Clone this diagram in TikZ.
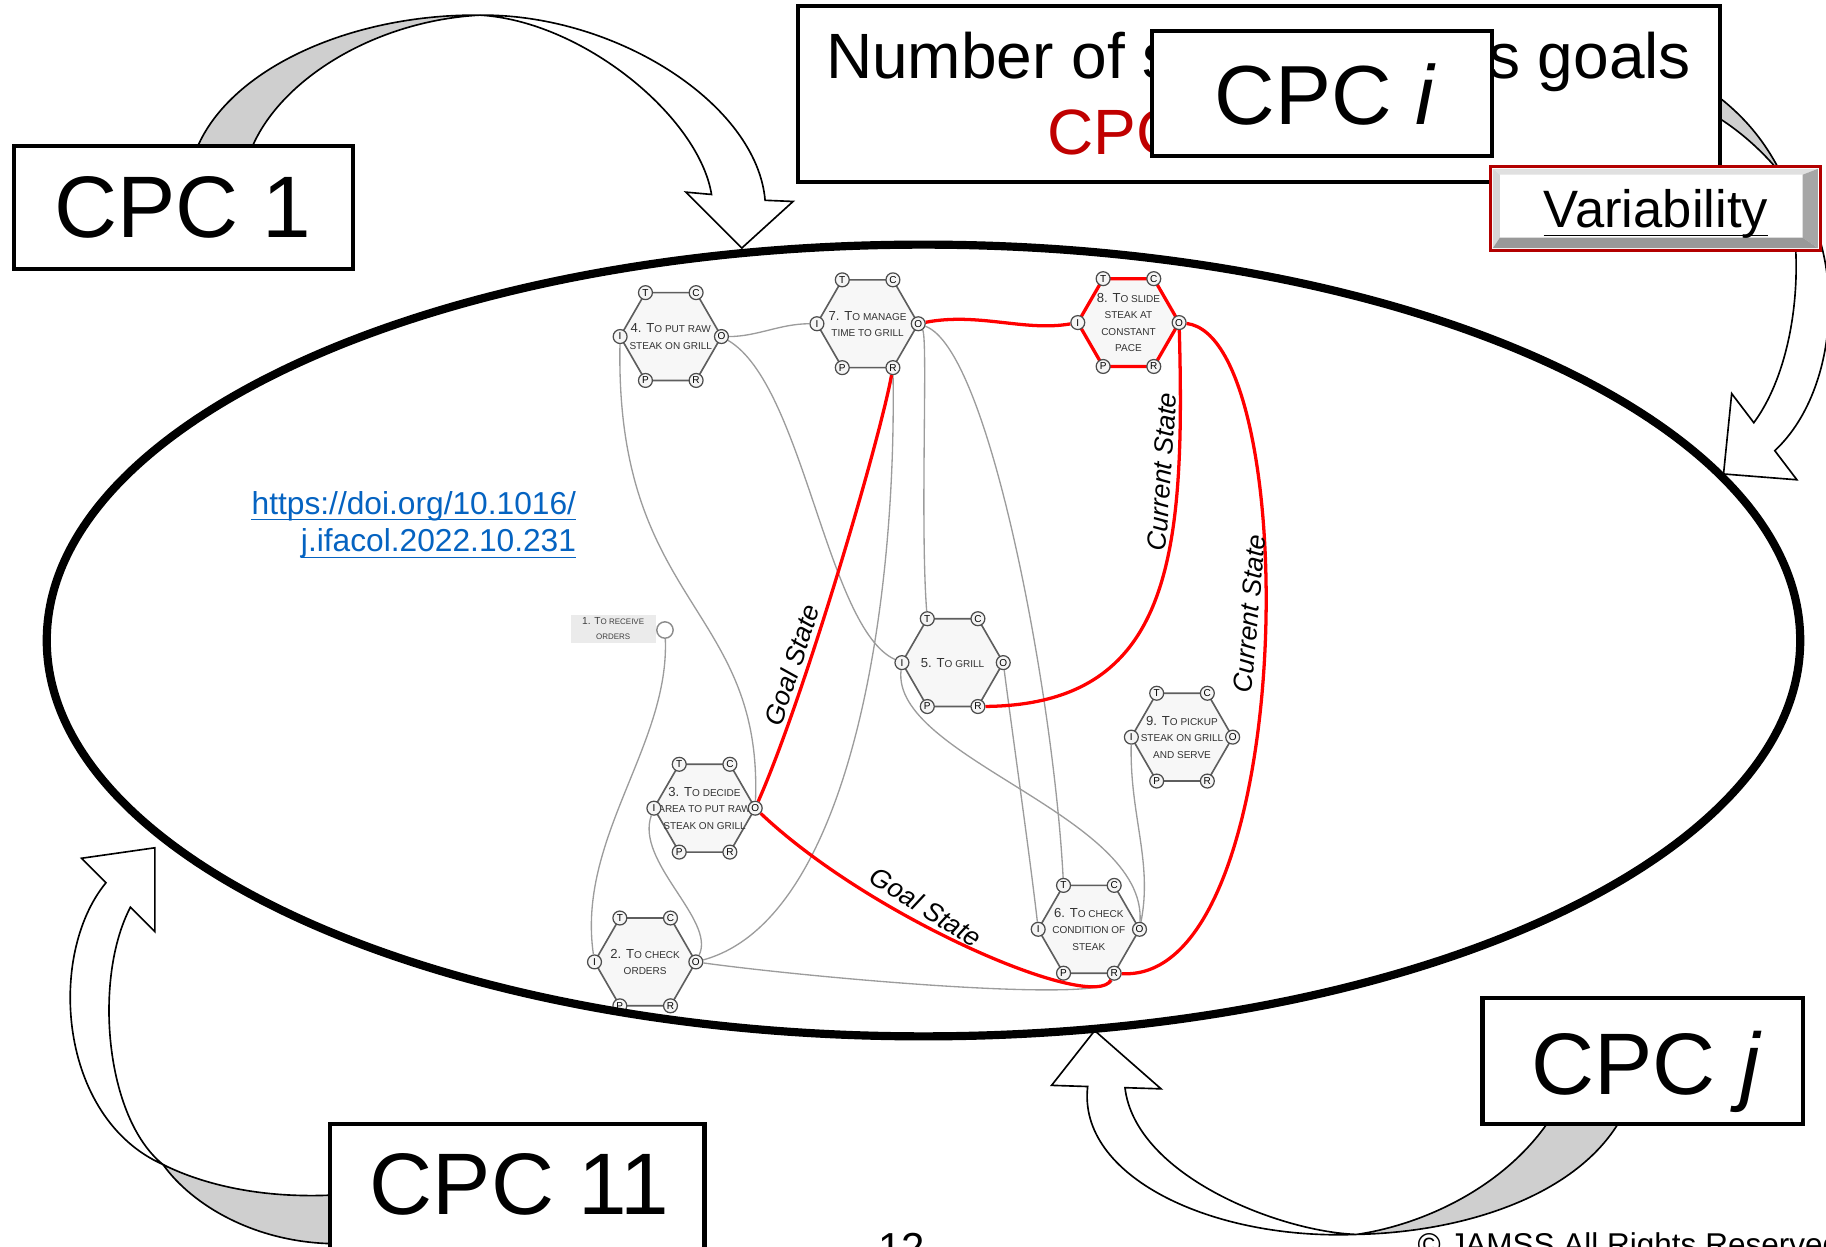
\documentclass[tikz,border=0pt]{standalone}
\usepackage{fontspec}
\setmainfont{Liberation Sans}
\definecolor{gcol}{HTML}{9C9C9C}
\definecolor{cpcred}{HTML}{C00000}
\definecolor{varred}{HTML}{B30000}
\definecolor{linkblue}{HTML}{0563C1}
\definecolor{hexfill}{HTML}{F7F7F7}
\definecolor{hexdraw}{HTML}{5E5E5E}
\definecolor{bandgrey}{HTML}{CFCFCF}
\newcommand\smc[1]{{\fontsize{4.9}{8}\selectfont\MakeUppercase{#1}}}
\newcommand\smcs[1]{{\fontsize{3.9}{7.4}\selectfont\MakeUppercase{#1}}}
\newcommand\hexfn[4][]{%
  \begin{scope}[shift={(#3)}]
    \draw[hexline,#1] (-43.5,0) -- (-21.75,-37.7) -- (21.75,-37.7) -- (43.5,0) -- (21.75,37.7) -- (-21.75,37.7) -- cycle;
    \node[hextext] (#2) at (0,0) {#4};
    \node[port] (#2-T) at (-21.75,-37.7) {T};
    \node[port] (#2-C) at (21.75,-37.7) {C};
    \node[port] (#2-O) at (43.5,0) {O};
    \node[port] (#2-R) at (21.75,37.7) {R};
    \node[port] (#2-P) at (-21.75,37.7) {P};
    \node[port] (#2-I) at (-43.5,0) {I};
  \end{scope}}
\begin{document}
\begin{tikzpicture}[x=0.02cm,y=-0.02cm,
  cpcbox/.style={draw=black, line width=2pt, fill=white, inner sep=0},
  bigtxt/.style={font=\fontsize{42.7}{48}\selectfont, anchor=base, inner sep=0},
  arrowgrey/.style={draw=black, line width=0.8pt, fill=bandgrey, line join=round},
  arrowwhite/.style={draw=black, line width=0.8pt, fill=white, line join=miter},
  hexline/.style={draw=hexdraw, line width=0.8pt, fill=hexfill},
  hextext/.style={align=center, text=black!80, font=\fontsize{6.4}{8}\selectfont, inner sep=0},
  port/.style={circle, draw=black!70, fill=black!4, line width=0.6pt, inner sep=0pt, minimum size=6.8pt, font=\fontsize{4.9}{5}\selectfont},
  gline/.style={draw=gcol, line width=0.65pt},
  rline/.style={draw=red, line width=1.6pt},
  slabel/.style={font=\itshape\fontsize{13}{15}\selectfont, inner sep=0},
  linktxt/.style={font=\fontsize{15.5}{18}\selectfont, text=linkblue, anchor=base east, inner sep=0}
]
\useasboundingbox (0,0) rectangle (1568,1070);

% ---------- curved block arrows ----------
% CPC 1
\draw[arrowgrey] (168,130) .. controls (195,60) and (300,12) .. (412,13) .. controls (320,18) and (238,70) .. (215,130) -- cycle;
\draw[arrowwhite] (412,13) .. controls (530,12) and (650,90) .. (657,172) -- (681,173) -- (637,213) -- (589,165) -- (611,167) .. controls (600,100) and (500,18) .. (412,13) -- cycle;
% CPC i
\draw[arrowgrey] (1460,72) .. controls (1495,95) and (1515,120) .. (1530,150) .. controls (1512,128) and (1490,108) .. (1460,92) -- cycle;
\draw[arrowwhite] (1530,150) .. controls (1585,200) and (1585,330) .. (1524,387) -- (1543,412) -- (1480,407) -- (1487,338) -- (1506,363) .. controls (1545,310) and (1552,210) .. (1530,150) -- cycle;
% CPC j
\draw[arrowgrey] (1335,955) .. controls (1295,1020) and (1220,1052) .. (1165,1060) .. controls (1260,1058) and (1360,1025) .. (1395,955) -- cycle;
\draw[arrowwhite] (1165,1060) .. controls (1040,1065) and (925,1010) .. (934,933) -- (903,932) -- (940,885) -- (997,935) -- (966,934) .. controls (975,1010) and (1100,1058) .. (1165,1060) -- cycle;
% CPC 11
\draw[arrowgrey] (290,1026) .. controls (220,1030) and (170,1015) .. (140,1000) .. controls (165,1035) and (220,1068) .. (290,1068) -- cycle;
\draw[arrowwhite] (140,1000) .. controls (50,960) and (40,820) .. (91,758) -- (70,737) -- (133,728) -- (133,800) -- (112,779) .. controls (80,840) and (90,960) .. (140,1000) -- cycle;

% ---------- function network ----------
\hexfn{h4}{576,289}{4. T\smc{o put raw}\\\smc{steak on grill}}
\hexfn{h7}{745,278}{7. T\smc{o manage}\\\smc{time to grill}}
\hexfn[draw=red, line width=1.6pt]{h8}{969,277}{8. T\smc{o slide}\\\smc{steak at}\\\smc{constant}\\\smc{pace}}
\hexfn{h5}{818,569}{5. T\smc{o grill}}
\hexfn{h3}{605,694}{3. T\smc{o decide}\\\smc{area to put raw}\\\smc{steak on grill}}
\hexfn{h2}{554,826}{2. T\smc{o check}\\\smc{orders}}
\hexfn{h6}{935,798}{6. T\smc{o check}\\\smc{condition of}\\\smc{steak}}
\hexfn{h9}{1015,633}{9. T\smc{o pickup}\\\smc{steak on grill}\\\smc{and serve}}

\node[fill=black!8, align=center, text=black!75, font=\fontsize{5}{7.4}\selectfont, inner sep=0.5pt, minimum width=41.5pt, minimum height=13.7pt] (f1lab) at (526.5,540) {1. T\smcs{o receive}\\\smcs{orders}};
\node[circle, draw=black!45, fill=white, line width=0.7pt, minimum size=8pt, inner sep=0] (f1) at (571,541) {};

% grey couplings
\draw[gline] (h4-O) .. controls (650,289) and (670,278) .. (h7-I);
\draw[gline] (h4-O) .. controls (690,330) and (710,540) .. (h5-I);
\draw[gline] (h4-I) .. controls (528,520) and (655,520) .. (h3-O);
\draw[gline] (h7-O) .. controls (797,290) and (790,450) .. (h5-T);
\draw[gline] (h7-O) .. controls (850,300) and (905,600) .. (h6-T);
\draw[gline] (h7-R) .. controls (770,520) and (730,790) .. (h2-O);
\draw[gline] (h2-O) .. controls (700,840) and (950,862) .. (h6-R);
\draw[gline] (h2-O) .. controls (615,790) and (545,740) .. (h3-I);
\draw[gline] (f1) .. controls (575,640) and (495,720) .. (h2-I);
\draw[gline] (h5-I) .. controls (765,650) and (985,700) .. (h6-O);
\draw[gline] (h5-O) .. controls (868,620) and (885,740) .. (h6-I);
\draw[gline] (h9-I) .. controls (970,700) and (990,740) .. (h6-O);

% red couplings
\draw[rline] (h7-O) .. controls (840,268) and (880,285) .. (h8-I);
\draw[rline] (h7-R) .. controls (755,380) and (690,600) .. (h3-O);
\draw[rline] (h8-O) .. controls (1018,480) and (1005,605) .. (h5-R);
\draw[rline] (h8-O) .. controls (1120,290) and (1115,845) .. (h6-R);
\draw[rline] (h3-O) .. controls (750,790) and (940,870) .. (h6-R);

\node[slabel, rotate=72] (gs1) at (680,571) {Goal State};
\node[slabel, rotate=-32] (gs2) at (795,779) {Goal State};
\node[slabel, rotate=86] (cs1) at (998,405) {Current State};
\node[slabel, rotate=85] (cs2) at (1073,527) {Current State};

% ---------- system ellipse ----------
\draw[line width=4pt] (793,550) ellipse [x radius=15.06cm, y radius=6.8cm];

% ---------- reference link ----------
\node[linktxt] (doi1) at (495,441.5) {https://doi.org/10.1016/};
\node[linktxt] (doi2) at (495,473.7) {j.ifacol.2022.10.231};
\draw[linkblue, line width=0.6pt] ([yshift=-2.7pt]doi1.base west) -- ([yshift=-2.7pt]doi1.base east);
\draw[linkblue, line width=0.6pt] ([yshift=-2.7pt]doi2.base west) -- ([yshift=-2.7pt]doi2.base east);

% ---------- CPC boxes ----------
\node[cpcbox, minimum width=15.84cm, minimum height=3.02cm] (numbox) at (1081,80.5) {};
\node[anchor=base west, inner sep=0, font=\fontsize{31.3}{36}\selectfont] (numtxt) at (709,67) {Number of simultaneous goals};
\node[anchor=base west, inner sep=0, font=\fontsize{31.3}{36}\selectfont, text=cpcred] (numcpc) at (899,133) {CPC};
\node[cpcbox, minimum width=5.84cm, minimum height=2.14cm] (cpci) at (1135,80.5) {};
\node[bigtxt, font=\fontsize{41}{46}\selectfont] at (1138,107) {CPC \textit{i}};

% Variability button
\draw[draw=varred, line width=1.6pt, fill=white] (1280,143) rectangle (1563,215);
\fill[black!12] (1282,145) -- (1561,145) -- (1548,150) -- (1288,150) -- cycle;
\fill[black!16] (1282,145) -- (1288,150) -- (1288,204) -- (1282,213) -- cycle;
\fill[black!35] (1561,145) -- (1561,213) -- (1548,204) -- (1548,150) -- cycle;
\fill[black!40] (1282,213) -- (1561,213) -- (1548,204) -- (1288,204) -- cycle;
\node[anchor=base, inner sep=0, font=\fontsize{25.7}{28}\selectfont] (vtxt) at (1422,195) {Variability};
\draw[line width=0.7pt] ([yshift=-4pt]vtxt.base west) -- ([yshift=-4pt]vtxt.base east);

\node[cpcbox, minimum width=5.82cm, minimum height=2.12cm] (cpc1) at (157.5,178) {};
\node[bigtxt] at (157,204) {CPC 1};
\node[cpcbox, minimum width=5.5cm, minimum height=2.16cm] (cpcj) at (1410.5,911) {};
\node[bigtxt] at (1414,940) {CPC \textit{j}};
\node[cpcbox, minimum width=6.44cm, minimum height=2.5cm] (cpc11) at (444,1027.5) {};
\node[bigtxt] at (446,1043) {CPC 11};

% ---------- footer (cut by the page edge) ----------
\node[anchor=base west, inner sep=0, font=\fontsize{20.5}{24}\selectfont] (pgno) at (754,1084) {12};
\node[anchor=base west, inner sep=0, font=\fontsize{15.4}{18}\selectfont] (copy) at (1217,1078.5) {© JAMSS All Rights Reserved};
\end{tikzpicture}
\end{document}
